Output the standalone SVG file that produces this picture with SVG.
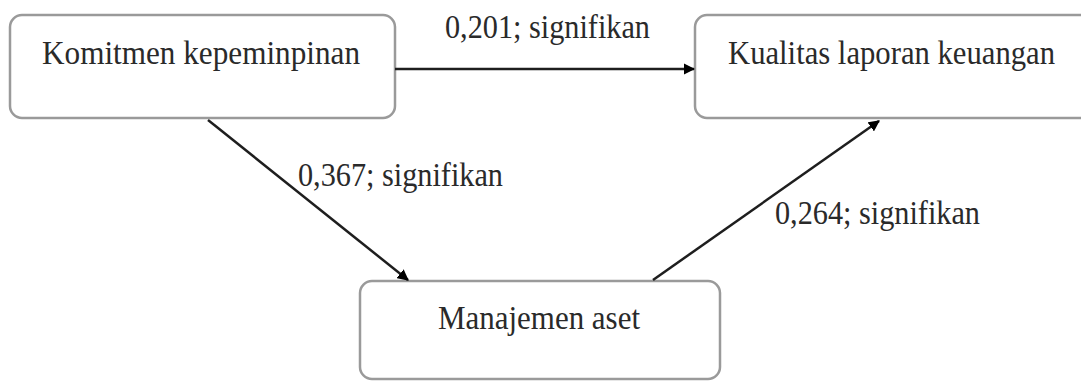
<svg xmlns="http://www.w3.org/2000/svg" width="1081" height="381" viewBox="0 0 1081 381">
<style>
.box{fill:#fff;stroke:#9a9a9a;stroke-width:2.5}
.lbl{font-family:"Liberation Serif","Times New Roman",serif;font-size:33px;fill:#2a2a2a}
.con{stroke:#1e1e1e;stroke-width:2.5;fill:none;marker-end:url(#ah)}
</style>
<defs>
<marker id="ah" viewBox="0 0 10 10" refX="9" refY="5" markerWidth="4.5" markerHeight="4.5" orient="auto" markerUnits="strokeWidth">
<path d="M0,0 L10,5 L0,10 z" fill="#000"/>
</marker>
</defs>
<rect width="1081" height="381" fill="#fff"/>
<g id="node-komitmen">
<rect class="box" x="10" y="15" width="385" height="103" rx="12"/>
<text class="lbl" x="42" y="64" textLength="318" lengthAdjust="spacingAndGlyphs">Komitmen kepeminpinan</text>
</g>
<g id="node-kualitas">
<rect class="box" x="695" y="15" width="400" height="103" rx="12"/>
<text class="lbl" x="728" y="64" textLength="327" lengthAdjust="spacingAndGlyphs">Kualitas laporan keuangan</text>
</g>
<g id="node-manajemen">
<rect class="box" x="360" y="281" width="360" height="98" rx="12"/>
<text class="lbl" x="438" y="329" textLength="202" lengthAdjust="spacingAndGlyphs">Manajemen aset</text>
</g>
<g id="connectors">
<line class="con" x1="395" y1="69" x2="694" y2="69"/>
<line class="con" x1="208" y1="120" x2="408" y2="280"/>
<line class="con" x1="653" y1="280" x2="879" y2="121"/>
</g>
<g id="edge-labels">
<text class="lbl" x="445" y="38" textLength="205" lengthAdjust="spacingAndGlyphs">0,201; signifikan</text>
<text class="lbl" x="298" y="186" textLength="205" lengthAdjust="spacingAndGlyphs">0,367; signifikan</text>
<text class="lbl" x="775" y="224" textLength="205" lengthAdjust="spacingAndGlyphs">0,264; signifikan</text>
</g>
</svg>
